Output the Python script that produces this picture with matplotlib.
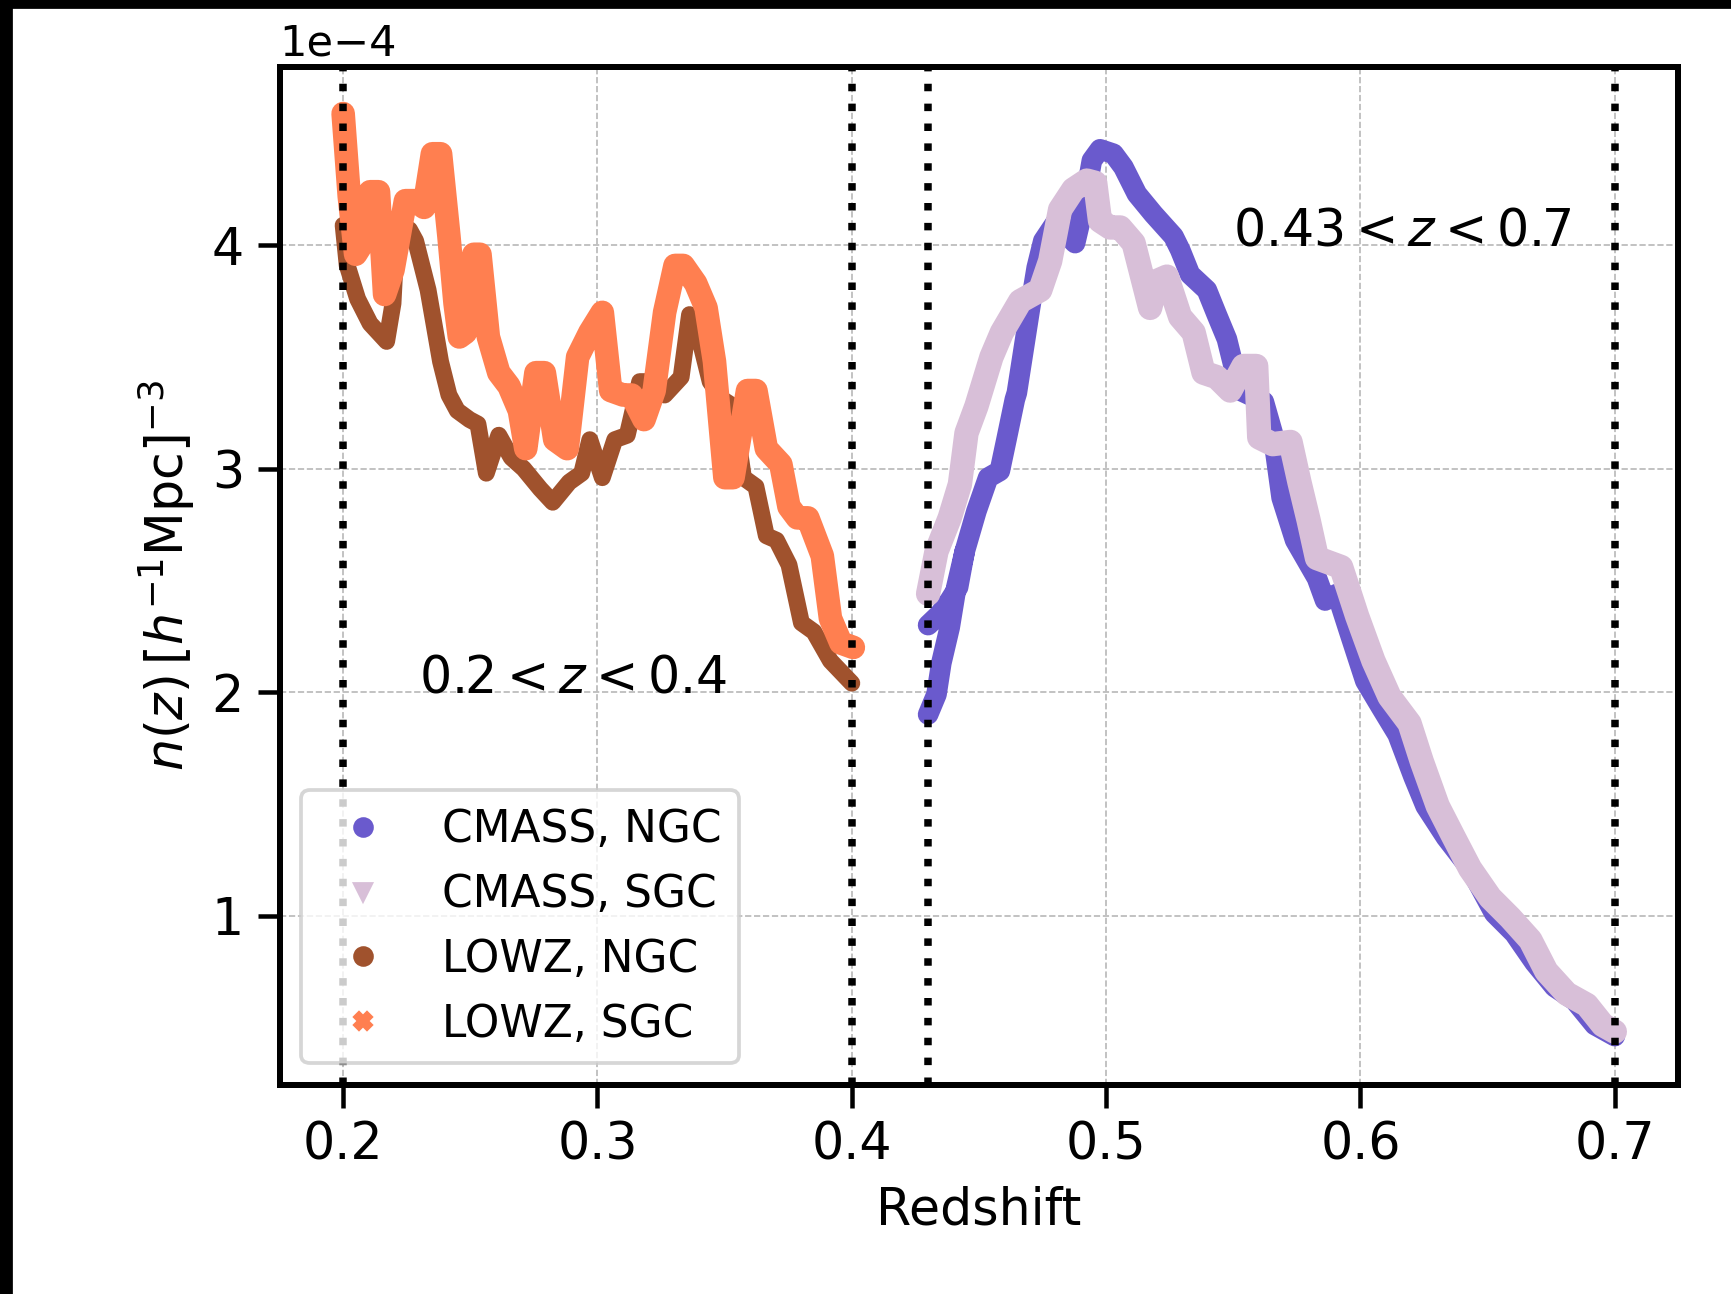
import numpy as np
import matplotlib
matplotlib.use("Agg")
import matplotlib.pyplot as plt
from matplotlib.lines import Line2D
from matplotlib.patches import Rectangle

# n(z) curves, values in units of 1e-4 (h^-1 Mpc)^-3
cmass_ngc_z = [0.4300, 0.4346, 0.4385, 0.4418, 0.4444, np.nan,
               0.4300, 0.4333, 0.4352, 0.4385, 0.4411, 0.4444, 0.4490, 0.4536,
               0.4582, 0.4608, 0.4641, 0.4649, 0.4701, 0.4727, 0.4753, 0.4800,
               0.4878, 0.4911, 0.4944, 0.4976, 0.5029, 0.5068, 0.5121, 0.5186,
               0.5265, 0.5291, 0.5330, 0.5396, 0.5435, 0.5475, 0.5501, 0.5527,
               0.5620, 0.5655, 0.5690, 0.5743, 0.5829, 0.5861, 0.5908, 0.5956,
               0.6019, 0.6082, 0.6146, 0.6209, 0.6256, 0.6336, 0.6431, 0.6526,
               0.6605, 0.6684, 0.6763, 0.6842, 0.6921, 0.7000]
cmass_ngc_n = [2.30, 2.35, 2.41, 2.47, 2.63, np.nan,
               1.90, 1.99, 2.13, 2.29, 2.47, 2.63, 2.81, 2.96,
               2.99, 3.13, 3.31, 3.34, 3.72, 3.90, 4.02, 4.10,
               4.01, 4.17, 4.38, 4.43, 4.41, 4.35, 4.23, 4.14,
               4.04, 3.98, 3.87, 3.80, 3.69, 3.58, 3.46, 3.35,
               3.30, 3.16, 2.87, 2.68, 2.51, 2.41, 2.44, 2.27,
               2.05, 1.93, 1.81, 1.62, 1.49, 1.35, 1.21, 1.01,
               0.92, 0.79, 0.68, 0.62, 0.51, 0.46]

cmass_sgc_z = [0.4300, 0.4333, 0.4385, 0.4425, 0.4451, 0.4490, 0.4549, 0.4590,
               0.4662, 0.4741, 0.4780, 0.4819, 0.4871, 0.4924, 0.4957, 0.4976,
               0.5016, 0.5055, 0.5108, 0.5173, 0.5199, 0.5239, 0.5291, 0.5344,
               0.5383, 0.5435, 0.5488, 0.5540, 0.5590, 0.5602, 0.5655, 0.5725,
               0.5760, 0.5796, 0.5829, 0.5924, 0.5987, 0.6051, 0.6114, 0.6193,
               0.6241, 0.6304, 0.6367, 0.6431, 0.6510, 0.6589, 0.6668, 0.6731,
               0.6811, 0.6890, 0.6953, 0.7000]
cmass_sgc_n = [2.44, 2.63, 2.78, 2.93, 3.16, 3.28, 3.50, 3.61,
               3.75, 3.80, 3.93, 4.16, 4.25, 4.29, 4.28, 4.11,
               4.08, 4.08, 4.01, 3.72, 3.84, 3.86, 3.68, 3.61,
               3.43, 3.41, 3.35, 3.46, 3.46, 3.14, 3.11, 3.12,
               2.94, 2.77, 2.60, 2.56, 2.34, 2.14, 1.98, 1.86,
               1.69, 1.49, 1.35, 1.21, 1.08, 0.99, 0.89, 0.75,
               0.65, 0.60, 0.51, 0.48]

lowz_ngc_z = [0.2000, 0.2016, 0.2057, 0.2106, 0.2171, 0.2196, 0.2212, 0.2261,
              0.2285, 0.2334, 0.2383, 0.2416, 0.2449, 0.2497, 0.2530, 0.2563,
              0.2612, 0.2661, 0.2710, 0.2775, 0.2824, 0.2889, 0.2938, 0.2970,
              0.3019, 0.3068, 0.3117, 0.3166, 0.3215, 0.3264, 0.3329, 0.3362,
              0.3395, 0.3443, 0.3492, 0.3533, 0.3574, 0.3623, 0.3664, 0.3704,
              0.3753, 0.3802, 0.3851, 0.3916, 0.4000]
lowz_ngc_n = [4.09, 3.91, 3.76, 3.65, 3.57, 3.74, 4.09, 4.07,
              4.02, 3.80, 3.48, 3.33, 3.26, 3.22, 3.20, 2.98,
              3.15, 3.05, 3.00, 2.91, 2.85, 2.94, 2.98, 3.13,
              2.96, 3.13, 3.15, 3.39, 3.39, 3.33, 3.41, 3.69,
              3.61, 3.39, 3.31, 3.28, 2.96, 2.92, 2.70, 2.68,
              2.57, 2.31, 2.27, 2.14, 2.04]

lowz_sgc_z = [0.2000, 0.2024, 0.2049, 0.2082, 0.2106, 0.2139, 0.2163, 0.2196,
              0.2245, 0.2285, 0.2318, 0.2351, 0.2383, 0.2416, 0.2440, 0.2457,
              0.2481, 0.2514, 0.2538, 0.2571, 0.2612, 0.2652, 0.2693, 0.2718,
              0.2758, 0.2791, 0.2832, 0.2881, 0.2922, 0.2970, 0.3019, 0.3052,
              0.3101, 0.3134, 0.3183, 0.3223, 0.3264, 0.3305, 0.3337, 0.3386,
              0.3427, 0.3460, 0.3501, 0.3533, 0.3590, 0.3623, 0.3664, 0.3721,
              0.3753, 0.3786, 0.3827, 0.3884, 0.3916, 0.3957, 0.4006]
lowz_sgc_n = [4.59, 4.22, 3.96, 4.02, 4.24, 4.24, 3.78, 3.89,
              4.20, 4.20, 4.17, 4.41, 4.41, 4.04, 3.74, 3.59,
              3.61, 3.96, 3.96, 3.59, 3.43, 3.37, 3.26, 3.09,
              3.43, 3.43, 3.13, 3.09, 3.50, 3.61, 3.70, 3.35,
              3.33, 3.33, 3.22, 3.35, 3.70, 3.91, 3.91, 3.83,
              3.72, 3.48, 2.96, 2.96, 3.35, 3.35, 3.09, 3.02,
              2.83, 2.78, 2.78, 2.61, 2.33, 2.22, 2.20]

labels = ["CMASS, NGC", "CMASS, SGC", "LOWZ, NGC", "LOWZ, SGC"]
colors = ["slateblue", "thistle", "sienna", "coral"]
markers = ["o", "v", "o", "X"]
z_edges = [0.2, 0.4, 0.43, 0.7]

scale = 1e-4

fig = plt.figure(figsize=(1731 / 270, 1294 / 270), dpi=270)
ax = fig.add_axes([0.1615, 0.1613, 0.9696 - 0.1615, 0.9485 - 0.1613])

series = [(cmass_ngc_z, cmass_ngc_n, 5.5),
          (cmass_sgc_z, cmass_sgc_n, 6.5),
          (lowz_ngc_z, lowz_ngc_n, 4.5),
          (lowz_sgc_z, lowz_sgc_n, 6.3)]
for (zz, nn, lw), c in zip(series, colors):
    ax.plot(zz, np.array(nn) * scale, color=c, lw=lw,
            solid_joinstyle='round', solid_capstyle='round', zorder=3)

for ze in z_edges:
    ax.axvline(ze, color='black', ls=':', lw=2, zorder=4)

ax.text(0.23, 2.0 * scale, r"$0.2 < z < 0.4$", fontsize=13.5)
ax.text(0.55, 4.0 * scale, r"$0.43 < z < 0.7$", fontsize=13.5)

ax.set_xlim(0.175, 0.725)
ax.set_ylim(0.24 * scale, 4.80 * scale)
ax.set_xticks([0.2, 0.3, 0.4, 0.5, 0.6, 0.7])
ax.set_yticks(np.array([1, 2, 3, 4]) * scale)
ax.ticklabel_format(axis='y', style='sci', scilimits=(0, 0))
ax.yaxis.get_offset_text().set_fontsize(11.5)

ax.grid(True, ls='--', lw=0.45, color='0.72', zorder=0)
ax.set_axisbelow(True)
ax.tick_params(labelsize=13.5, length=6, width=1.2)
for sp in ax.spines.values():
    sp.set_linewidth(1.6)

ax.set_xlabel("Redshift", fontsize=13.5)
ax.set_ylabel(r"$n(z)\,[h^{-1}{\rm Mpc}]^{-3}$", fontsize=13.5)

handles = [Line2D([], [], ls='none', marker=m, color=c, markersize=4.5)
           for m, c in zip(markers, colors)]
ax.legend(handles, labels, loc='lower left', fontsize=11.7, labelspacing=0.5)

# black screenshot borders
fig.patches.append(Rectangle((0, 1 - 7 / 1294), 1, 7 / 1294, transform=fig.transFigure,
                             color='black', zorder=10))
fig.patches.append(Rectangle((0, 0), 10.5 / 1731, 1, transform=fig.transFigure,
                             color='black', zorder=10))

fig.savefig("out.png", dpi=270)
